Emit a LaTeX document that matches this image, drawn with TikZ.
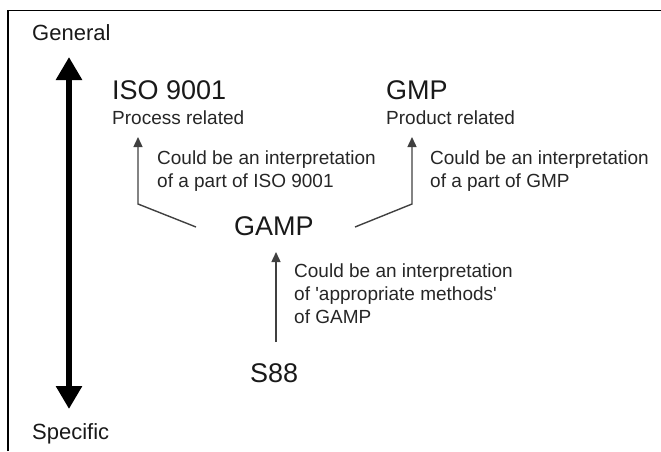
\documentclass[tikz,border=0pt]{standalone}
\usepackage{fontspec}
\setmainfont{Liberation Sans}
\usetikzlibrary{arrows.meta}
\begin{document}
\begin{tikzpicture}[x=1pt,y=-1pt,
  axis/.style={font=\fontsize{22}{26}\selectfont, inner sep=0, anchor=base west, text=black!90},
  big/.style={font=\fontsize{27}{30}\selectfont, inner sep=0, anchor=base west, text=black!90},
  small/.style={font=\fontsize{19}{22.7}\selectfont, inner sep=0, anchor=base west, align=left, text=black!85},
  conn/.style={draw=black!75, line width=1.4pt, -{Triangle[width=9pt,length=10pt]}},
  bigarrow/.style={line width=6pt, {Triangle[width=25pt,length=23pt]}-{Triangle[width=25pt,length=23pt]}}]
\useasboundingbox (0,0) rectangle (661,451);
% frame
\coordinate (fbl) at (8,451);
\coordinate (ftl) at (8,10.5);
\coordinate (ftr) at (661,10.5);
\draw[line width=1.6pt] (fbl) -- (ftl) -- (ftr);
% axis
\node[axis] (gen) at (32,40.7) {General};
\node[axis] (spec) at (32,439) {Specific};
\coordinate (atop) at (69,57);
\coordinate (abot) at (69,409);
\draw[bigarrow] (atop) -- (abot);
% standards
\node[big] (iso) at (112,99.3) {ISO 9001};
\node[small] (proc) at (112,124) {Process related};
\node[big] (gmp) at (386,99.3) {GMP};
\node[small] (prod) at (386,124) {Product related};
\node[big] (gamp) at (234,235) {GAMP};
\node[big] (s88) at (250,382) {S88};
% labels (anchor at baseline of last line)
\node[small] (l1) at (157,187) {Could be an interpretation\\of a part of ISO 9001};
\node[small] (l2) at (430,187) {Could be an interpretation\\of a part of GMP};
\node[small] (l3) at (294,323) {Could be an interpretation\\of \textquotesingle appropriate methods\textquotesingle\\of GAMP};
% connectors
\coordinate (c1s) at (196,227);
\coordinate (c1c) at (138,204);
\coordinate (c1e) at (138,137);
\draw[conn] (c1s) -- (c1c) -- (c1e);
\coordinate (c2s) at (355,227);
\coordinate (c2c) at (412,204);
\coordinate (c2e) at (412,137);
\draw[conn] (c2s) -- (c2c) -- (c2e);
\coordinate (c3s) at (276,342);
\coordinate (c3e) at (276,252);
\draw[conn] (c3s) -- (c3e);
\end{tikzpicture}
\end{document}
